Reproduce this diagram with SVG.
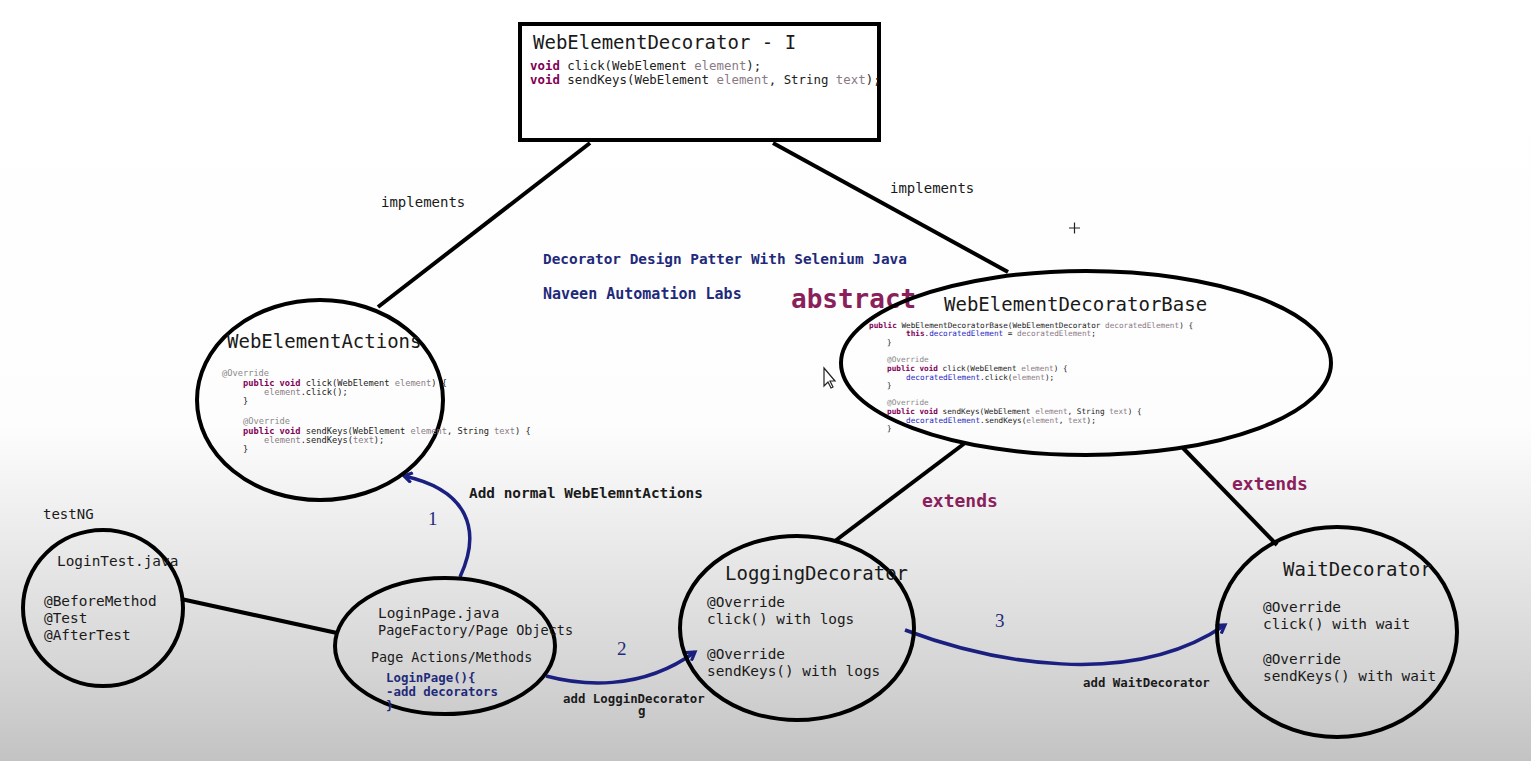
<svg xmlns="http://www.w3.org/2000/svg" width="1531" height="761" viewBox="0 0 1531 761">
  <defs>
    <linearGradient id="bg" x1="0" y1="0" x2="0" y2="1">
      <stop offset="0" stop-color="#ffffff"/>
      <stop offset="0.56" stop-color="#fdfdfd"/>
      <stop offset="0.72" stop-color="#e9e9e9"/>
      <stop offset="0.88" stop-color="#d5d5d5"/>
      <stop offset="1" stop-color="#c3c3c3"/>
    </linearGradient>
    <marker id="arrow" markerWidth="12" markerHeight="12" refX="9" refY="6" orient="auto" markerUnits="userSpaceOnUse" viewBox="0 0 12 12">
      <path d="M1,1 L9,6 L1,11" fill="none" stroke="#1b2080" stroke-width="3.2" stroke-linejoin="miter"/>
    </marker>
    <style>
      .shape { fill: none; stroke: #000; stroke-width: 4; }
      .edge { stroke: #000; stroke-width: 4; fill: none; }
      .flow { stroke: #1b2080; stroke-width: 3.5; fill: none; marker-end: url(#arrow); }
      .mono { font-family: "DejaVu Sans Mono", "Liberation Mono", monospace; fill: #1a1a1a; }
      .title { font-size: 19px; }
      .body { font-size: 14.4px; }
      .lbl { font-size: 14px; }
      .bold { font-weight: bold; }
      .navy { fill: #1f2a7a; }
      .maroon { fill: #8a1f5c; }
      .num { font-family: "Liberation Serif", serif; font-size: 19px; fill: #1f2a7a; }
      .code { font-family: "DejaVu Sans Mono", "Liberation Mono", monospace; fill: #222; }
      .kw { fill: #7f0055; font-weight: bold; }
      .par { fill: #8a7a86; }
      .ann { fill: #8a8a8a; }
      .fld { fill: #2a2ac0; }
    </style>
  </defs>

  <rect x="0" y="0" width="1531" height="761" fill="url(#bg)"/>

  <!-- connectors -->
  <g id="connectors">
    <line class="edge" x1="590" y1="143" x2="378" y2="307"/>
    <line class="edge" x1="773" y1="143" x2="1008" y2="272"/>
    <line class="edge" x1="965" y1="443" x2="835" y2="541"/>
    <line class="edge" x1="1183" y1="448" x2="1277" y2="545"/>
    <line class="edge" x1="181" y1="599" x2="337" y2="633"/>

    <path class="flow" d="M460,577 C482,530 468,490 404,476"/>
    <path class="flow" d="M546,676 C580,685 640,692 695,652"/>
    <path class="flow" d="M905,630 C990,662 1130,690 1225,625"/>

    <text class="mono lbl" x="381" y="207">implements</text>
    <text class="mono lbl" x="890" y="193">implements</text>
    <text class="mono bold maroon" x="922" y="507" font-size="18">extends</text>
    <text class="mono bold maroon" x="1232" y="490" font-size="18">extends</text>

    <text class="num" x="428" y="525">1</text>
    <text class="num" x="617" y="655">2</text>
    <text class="num" x="995" y="627">3</text>
    <text class="mono bold" x="469" y="498" font-size="14.4">Add normal WebElemntActions</text>
    <text class="mono bold" x="563" y="703" font-size="12.4">add LogginDecorator</text>
    <text class="mono bold" x="638" y="715" font-size="12.4">g</text>
    <text class="mono bold" x="1083" y="687" font-size="12.4">add WaitDecorator</text>
  </g>

  <!-- interface box -->
  <g id="webElementDecorator">
    <rect x="520" y="24" width="359" height="116" fill="#ffffff" stroke="#000" stroke-width="4"/>
    <text class="mono title" x="533" y="49">WebElementDecorator - I</text>
    <text class="code" x="530" y="70" font-size="12.4"><tspan class="kw">void</tspan> click(WebElement <tspan class="par">element</tspan>);</text>
    <text class="code" x="530" y="84" font-size="12.4"><tspan class="kw">void</tspan> sendKeys(WebElement <tspan class="par">element</tspan>, String <tspan class="par">text</tspan>);</text>
  </g>

  <!-- heading -->
  <g id="heading">
    <text class="mono bold navy" x="543" y="264" font-size="14.4">Decorator Design Patter With Selenium Java</text>
    <text class="mono bold navy" x="543" y="299" font-size="15">Naveen Automation Labs</text>
    <text class="mono bold maroon" x="791" y="308" font-size="26">abstract</text>
  </g>

  <!-- WebElementActions -->
  <g id="webElementActions">
    <ellipse class="shape" cx="320" cy="400" rx="123" ry="100"/>
    <text class="mono title" x="227" y="348">WebElementActions</text>
    <g class="code" font-size="8.7">
      <text x="222" y="376" class="ann">@Override</text>
      <text x="243" y="386"><tspan class="kw">public void</tspan> click(WebElement <tspan class="par">element</tspan>) {</text>
      <text x="264" y="395"><tspan class="par">element</tspan>.click();</text>
      <text x="243" y="404">}</text>
      <text x="243" y="424" class="ann">@Override</text>
      <text x="243" y="434"><tspan class="kw">public void</tspan> sendKeys(WebElement <tspan class="par">element</tspan>, String <tspan class="par">text</tspan>) {</text>
      <text x="264" y="443"><tspan class="par">element</tspan>.sendKeys(<tspan class="par">text</tspan>);</text>
      <text x="243" y="452">}</text>
    </g>
  </g>

  <!-- WebElementDecoratorBase -->
  <g id="webElementDecoratorBase">
    <ellipse class="shape" cx="1086" cy="363" rx="245" ry="92"/>
    <text class="mono title" x="944" y="311">WebElementDecoratorBase</text>
    <g class="code" font-size="7.7">
      <text x="869" y="328"><tspan class="kw">public</tspan> WebElementDecoratorBase(WebElementDecorator <tspan class="par">decoratedElement</tspan>) {</text>
      <text x="906" y="336"><tspan class="kw">this</tspan>.<tspan class="fld">decoratedElement</tspan> = <tspan class="par">decoratedElement</tspan>;</text>
      <text x="887" y="345">}</text>
      <text x="887" y="362" class="ann">@Override</text>
      <text x="887" y="371"><tspan class="kw">public void</tspan> click(WebElement <tspan class="par">element</tspan>) {</text>
      <text x="906" y="380"><tspan class="fld">decoratedElement</tspan>.click(<tspan class="par">element</tspan>);</text>
      <text x="887" y="388">}</text>
      <text x="887" y="405" class="ann">@Override</text>
      <text x="887" y="414"><tspan class="kw">public void</tspan> sendKeys(WebElement <tspan class="par">element</tspan>, String <tspan class="par">text</tspan>) {</text>
      <text x="906" y="423"><tspan class="fld">decoratedElement</tspan>.sendKeys(<tspan class="par">element</tspan>, <tspan class="par">text</tspan>);</text>
      <text x="887" y="431">}</text>
    </g>
  </g>

  <!-- LoginTest -->
  <g id="loginTest">
    <text class="mono lbl" x="43" y="519">testNG</text>
    <ellipse class="shape" cx="103" cy="608" rx="80" ry="78"/>
    <text class="mono body" x="57" y="566">LoginTest.java</text>
    <text class="mono body" x="44" y="606">@BeforeMethod</text>
    <text class="mono body" x="44" y="623">@Test</text>
    <text class="mono body" x="44" y="640">@AfterTest</text>
  </g>

  <!-- LoginPage -->
  <g id="loginPage">
    <ellipse class="shape" cx="445" cy="646" rx="110" ry="68"/>
    <text class="mono body" x="378" y="618">LoginPage.java</text>
    <text class="mono" x="378" y="635" font-size="13.5">PageFactory/Page Objects</text>
    <text class="mono" x="371" y="662" font-size="13.4">Page Actions/Methods</text>
    <text class="mono bold navy" x="386" y="682" font-size="12.4">LoginPage(){</text>
    <text class="mono bold navy" x="386" y="696" font-size="12.4">-add decorators</text>
    <text class="mono bold navy" x="386" y="710" font-size="12.4">}</text>
  </g>

  <!-- LoggingDecorator -->
  <g id="loggingDecorator">
    <ellipse class="shape" cx="797" cy="628" rx="117" ry="92"/>
    <text class="mono title" x="725" y="580">LoggingDecorator</text>
    <text class="mono body" x="707" y="607">@Override</text>
    <text class="mono body" x="707" y="624">click() with logs</text>
    <text class="mono body" x="707" y="659">@Override</text>
    <text class="mono body" x="707" y="676">sendKeys() with logs</text>
  </g>

  <!-- WaitDecorator -->
  <g id="waitDecorator">
    <ellipse class="shape" cx="1337" cy="632" rx="120" ry="105"/>
    <text class="mono title" x="1283" y="576">WaitDecorator</text>
    <text class="mono body" x="1263" y="612">@Override</text>
    <text class="mono body" x="1263" y="629">click() with wait</text>
    <text class="mono body" x="1263" y="664">@Override</text>
    <text class="mono body" x="1263" y="681">sendKeys() with wait</text>
  </g>

  <!-- pointer marks -->
  <g id="pointers" stroke="#222" stroke-width="1.2" fill="#fff">
    <path d="M824,368 L824,386 L828,382 L831,388 L833,387 L830,381 L835,381 Z"/>
    <path d="M1069,228 H1080 M1074.5,222.5 V233.5" fill="none"/>
  </g>
</svg>
